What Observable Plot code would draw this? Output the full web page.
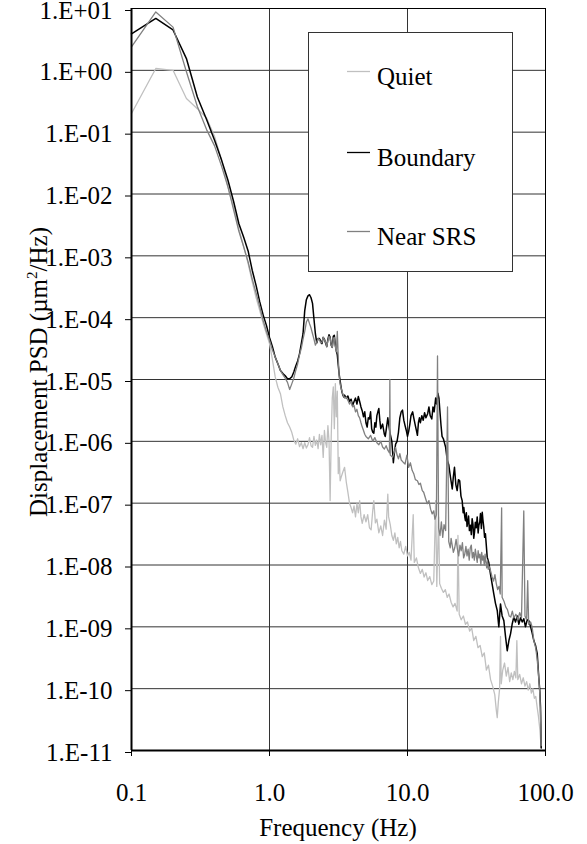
<!DOCTYPE html>
<html>
<head>
<meta charset="utf-8">
<script src="https://cdn.jsdelivr.net/npm/d3@7"></script>
<script src="https://cdn.jsdelivr.net/npm/@observablehq/plot@0.6"></script>
<style>
  html, body { margin: 0; padding: 0; background: #fff; }
  #chart { width: 587px; height: 844px; }
  #chart svg text { font-family: 'Liberation Serif', 'Times New Roman', serif; }
</style>
</head>
<body>
<div id="chart"></div>
<script>
// ---- Data ----
const xTicks = [0.1, 1, 10, 100];
const xTickLabels = ["0.1", "1.0", "10.0", "100.0"];
const yTicks = [1e1, 1e0, 1e-1, 1e-2, 1e-3, 1e-4, 1e-5, 1e-6, 1e-7, 1e-8, 1e-9, 1e-10, 1e-11];
const yTickLabels = ["1.E+01", "1.E+00", "1.E-01", "1.E-02", "1.E-03", "1.E-04", "1.E-05", "1.E-06", "1.E-07", "1.E-08", "1.E-09", "1.E-10", "1.E-11"];
const seriesNames = ["Quiet", "Boundary", "Near SRS"];

// Quiet
const quietF = [0.10,0.15,0.20,0.25,0.30,0.35,0.40,0.45,0.50,0.55,0.60,0.65,0.70,0.75,0.80,0.85,0.90,0.95,1.00,1.05,1.10,1.15,1.20,1.25,1.30,1.35,1.40,1.45,1.50,1.55,1.60,1.65,1.70,1.75,1.80,1.85,1.90,1.95,2.00,2.05,2.10,2.15,2.20,2.25,2.30,2.35,2.40,2.45,2.50,2.55,2.60,2.65,2.70,2.75,2.80,2.85,2.90,2.95,3.00,3.05,3.10,3.15,3.20,3.25,3.30,3.40,3.50,3.60,3.70,3.80,3.90,4.00,4.10,4.20,4.30,4.40,4.50,4.60,4.70,4.85,5.00,5.15,5.30,5.45,5.60,5.70,5.85,6.00,6.20,6.40,6.60,6.80,7.00,7.20,7.30,7.50,7.70,7.90,8.10,8.30,8.50,8.70,8.90,9.10,9.40,9.70,10.0,10.3,10.6,11.0,11.2,11.6,12.0,12.4,12.8,13.2,13.6,14.0,14.5,15.0,15.5,16.0,16.3,16.8,17.1,17.6,18.2,18.8,19.4,20.0,20.7,21.4,22.1,22.9,23.2,23.7,24.5,25.4,26.3,27.2,28.2,29.2,30.2,31.3,32.4,33.6,34.8,36.0,37.3,38.6,40.0,41.4,42.9,44.0,44.7,45.5,46.5,47.2,47.8,49.0,50.5,52.0,53.5,55.0,56.5,58.0,59.5,61.0,62.0,63.0,65.0,67.0,69.0,71.0,73.0,75.0,77.0,79.0,81.0,83.0,85.0,87.0,89.0,91.0,93.0];
const quietV = [0.2,1.07,1.0,0.35,0.24,0.17,0.085,0.035,0.013,0.006,0.0027,0.0014,7.5e-4,3.8e-4,2.1e-4,1.3e-4,8e-5,5.5e-5,3.8e-5,2.1e-5,1.1e-5,7.5e-6,5.9e-6,3.6e-6,2.6e-6,2.0e-6,1.7e-6,1.4e-6,1.05e-6,9.0e-7,1.1e-6,8.2e-7,9.5e-7,7.6e-7,9.5e-7,7.8e-7,8.8e-7,1.15e-6,8.5e-7,8.0e-7,1.2e-6,8.6e-7,1.05e-6,7.6e-7,1.3e-6,8.8e-7,1.25e-6,5.5e-7,1.5e-6,9.5e-7,8.0e-7,1.8e-6,1.0e-6,1.1e-7,1.2e-6,5.0e-6,7.6e-6,1.6e-6,8.6e-6,2.5e-6,6.5e-6,3.0e-7,5.5e-7,2.3e-7,2.6e-7,3.2e-7,3.8e-7,2.2e-7,1.5e-7,1.0e-7,8.5e-8,7.0e-8,9.0e-8,6.0e-8,9.8e-8,7.0e-8,1.1e-7,6.0e-8,4.7e-8,6.5e-8,5.0e-8,6.5e-8,4.0e-8,3.7e-8,7.6e-8,1.1e-7,4.8e-8,5.5e-8,3.3e-8,4.3e-8,3.0e-8,5.3e-8,3.8e-8,1.4e-7,6.0e-8,4.5e-8,3.0e-8,2.5e-8,3.3e-8,2.2e-8,2.8e-8,1.9e-8,2.4e-8,1.7e-8,1.5e-8,2.0e-8,1.4e-8,1.6e-8,1.2e-8,6.5e-8,1.1e-8,1.3e-8,9e-9,7.3e-9,8.5e-9,6.4e-9,7.5e-9,5.6e-9,6.5e-9,4.8e-9,5.5e-9,1.1e-7,4.5e-9,6e-8,5.0e-9,4.2e-9,3.6e-9,4.0e-9,3.0e-9,3.4e-9,2.5e-9,2.1e-9,2.4e-9,1.8e-9,3.0e-8,1.6e-9,1.3e-9,1.5e-9,1.1e-9,1.2e-9,8.5e-10,9.5e-10,6.0e-10,7.0e-10,4.6e-10,5.0e-10,3.3e-10,3.8e-10,2.0e-10,2.4e-10,1.4e-10,1.1e-10,8.0e-11,4.5e-11,3.4e-11,6.0e-11,1.0e-10,7e-10,1.2e-10,2.0e-10,2.6e-10,1.6e-10,2.2e-10,1.3e-10,1.8e-10,1.4e-10,1.9e-10,1.5e-10,6.0e-10,1.4e-10,1.7e-10,1.2e-10,1.5e-10,1.1e-10,1.3e-10,9.5e-11,1.2e-10,8.5e-11,1.0e-10,7.0e-11,7.5e-11,5.0e-11,3.5e-11,2.2e-11,1.1e-11];

// Boundary
const boundaryF = [0.10,0.15,0.20,0.25,0.30,0.35,0.40,0.45,0.50,0.55,0.60,0.65,0.70,0.75,0.80,0.85,0.90,0.95,1.00,1.05,1.10,1.15,1.20,1.25,1.30,1.35,1.40,1.45,1.50,1.55,1.60,1.65,1.70,1.75,1.80,1.85,1.90,1.95,2.00,2.05,2.10,2.15,2.20,2.25,2.30,2.35,2.40,2.45,2.50,2.55,2.60,2.65,2.70,2.75,2.80,2.85,2.90,2.95,3.00,3.05,3.10,3.15,3.20,3.25,3.30,3.35,3.40,3.45,3.5,3.6,3.7,3.8,3.9,4.0,4.1,4.2,4.3,4.4,4.5,4.6,4.7,4.8,4.9,5.0,5.1,5.2,5.3,5.4,5.5,5.6,5.7,5.8,5.9,6.0,6.1,6.2,6.3,6.4,6.6,6.8,6.9,7.0,7.2,7.3,7.5,7.7,7.9,8.0,8.2,8.4,8.6,8.8,9.0,9.2,9.4,9.6,9.8,10.0,10.2,10.4,10.6,10.9,11.1,11.4,11.6,11.8,12.0,12.2,12.4,12.7,13.0,13.3,13.6,14.0,14.3,14.6,15.0,15.3,15.6,16.0,16.3,16.6,16.9,17.1,17.5,17.8,18.2,18.9,19.4,19.9,20.5,21.1,21.5,21.9,22.4,22.9,23.4,23.9,24.4,24.9,25.3,25.6,26.0,26.3,26.7,27.0,27.4,27.7,28.1,28.6,29.0,29.4,29.8,30.2,30.6,31.0,31.5,32.0,32.5,32.9,33.4,33.8,34.3,34.8,35.2,35.7,36.2,36.7,37.8,38.8,39.9,41.0,42.2,43.4,44.7,45.9,47.2,48.5,49.9,51.3,52.8,54.3,55.8,57.3,58.9,60.6,62.4,64.1,65.9,67.8,69.6,71.6,73.7,75.7,78.0,80.0,82.3,84.7,87.1,89.4,91.0,92.0,93.1];
const boundaryV = [3.9,6.9,4.5,1.55,0.37,0.16,0.074,0.035,0.0167,0.0075,0.0033,0.0020,1.2e-3,5.8e-4,3.3e-4,1.8e-4,1.1e-4,7.5e-5,4.8e-5,3.4e-5,2.3e-5,1.8e-5,1.4e-5,1.25e-5,1.15e-5,1.03e-5,1.03e-5,1.1e-5,1.32e-5,1.65e-5,2.0e-5,2.6e-5,3.8e-5,5.5e-5,1.3e-4,1.95e-4,2.25e-4,2.35e-4,2.1e-4,1.7e-4,9.5e-5,5.5e-5,3.9e-5,4.6e-5,4.6e-5,4.2e-5,3.8e-5,4.8e-5,4.5e-5,3.9e-5,3.4e-5,4.5e-5,5.3e-5,4.8e-5,3.6e-5,3.3e-5,5.0e-5,5.2e-5,3.6e-5,2.9e-5,2.5e-5,1.7e-5,1.2e-5,9.5e-6,7.5e-6,6.3e-6,5.6e-6,5.2e-6,5.6e-6,5.0e-6,5.4e-6,4.4e-6,4.8e-6,3.8e-6,4.4e-6,5.0e-6,4.0e-6,5.3e-6,4.4e-6,3.6e-6,3.1e-6,2.5e-6,3.0e-6,2.0e-6,1.7e-6,2.4e-6,2.3e-6,3.0e-6,1.6e-6,1.4e-6,1.35e-6,2.0e-6,1.7e-6,2.6e-6,3.0e-6,3.4e-6,2.2e-6,1.6e-6,1.9e-6,1.3e-6,1.2e-6,1.5e-6,2.4e-6,1.9e-6,1.3e-6,1.0e-6,4.5e-7,6e-7,9e-7,1.0e-6,1.4e-6,2.4e-6,3.0e-6,3.2e-6,2.2e-6,1.8e-6,1.5e-6,1.2e-6,1.45e-6,1.9e-6,2.6e-6,3.0e-6,2.4e-6,1.8e-6,1.5e-6,1.25e-6,2.0e-6,2.4e-6,2.0e-6,2.6e-6,2.2e-6,2.9e-6,2.4e-6,2.8e-6,3.6e-6,2.6e-6,2.3e-6,3.6e-6,3.0e-6,5.0e-6,4.0e-6,6.0e-6,5.0e-6,3.5e-6,1.8e-6,1.2e-6,1.1e-6,8e-7,5e-7,4.2e-7,2.6e-7,1.7e-7,2.7e-7,3.8e-7,2.0e-7,1.6e-7,2.4e-7,2.3e-7,1.3e-7,1.1e-7,7.0e-8,8.5e-8,6.0e-8,5.2e-8,7.0e-8,4.2e-8,5.0e-8,6.2e-8,3.6e-8,4.4e-8,3.1e-8,5.6e-8,4.6e-8,2.7e-8,3.4e-8,4.9e-8,4.0e-8,6.0e-8,3.3e-8,4.4e-8,5.0e-8,6.8e-8,3.9e-8,7.1e-8,5.4e-8,4.1e-8,2.8e-8,3.2e-8,1.34e-8,1.1e-8,7.2e-9,5e-9,3.4e-9,2.4e-9,1.84e-9,1.0e-9,2.35e-9,1.5e-9,1.26e-9,7e-10,4.1e-10,6e-10,7.7e-10,1.1e-9,1.43e-9,1.2e-9,1.5e-9,1.1e-9,1.4e-9,1.2e-9,1.35e-9,1.0e-9,1.3e-9,1.26e-9,1.0e-9,8e-10,6e-10,5e-10,3.7e-10,1.5e-10,9e-11,5e-11,1.1e-11];

// Near SRS
const nearF = [0.10,0.15,0.20,0.25,0.30,0.35,0.40,0.45,0.50,0.55,0.60,0.65,0.70,0.75,0.80,0.85,0.90,0.95,1.00,1.05,1.10,1.15,1.20,1.25,1.30,1.35,1.40,1.45,1.50,1.55,1.60,1.65,1.70,1.75,1.80,1.85,1.90,1.95,2.00,2.05,2.10,2.15,2.20,2.25,2.30,2.35,2.40,2.45,2.50,2.55,2.60,2.65,2.70,2.75,2.80,2.85,2.90,2.95,3.00,3.05,3.10,3.15,3.20,3.25,3.30,3.35,3.40,3.5,3.6,3.7,3.8,3.9,4.0,4.1,4.2,4.3,4.4,4.5,4.6,4.7,4.8,4.9,5.0,5.2,5.4,5.6,5.8,6.0,6.2,6.4,6.6,6.8,7.0,7.2,7.4,7.45,7.5,7.8,8.0,8.2,8.4,8.6,8.8,9.0,9.3,9.6,9.9,10.2,10.5,10.8,11.1,11.4,11.8,12.1,12.4,12.8,13.1,13.5,13.9,14.3,14.7,15.1,15.5,15.8,16.2,16.5,16.8,17.2,17.6,18.0,18.4,18.9,19.5,19.9,20.4,20.7,21.0,21.5,22.0,22.5,23.0,23.5,24.0,24.5,25.0,25.5,26.0,26.5,27.0,27.5,28.0,28.5,29.0,29.5,30.0,30.5,31.0,31.5,32.0,32.5,33.0,33.5,34.0,34.5,35.0,35.5,36.0,36.5,37.0,37.5,38.0,38.5,39.0,40.0,41.0,42.0,43.0,44.0,45.0,46.0,47.0,48.1,48.5,50.0,51.5,53.0,54.5,56.0,57.5,59.0,61.0,63.0,65.0,67.0,69.6,71.0,73.0,74.3,75.5,78.0,80.0,82.3,85.0,87.0,89.0,91.0,92.0,93.0];
const nearV = [2.4,8.8,5.0,0.95,0.26,0.11,0.06,0.028,0.013,0.0055,0.0025,0.0014,8e-4,4.2e-4,2.5e-4,1.5e-4,9e-5,6e-5,4.3e-5,3e-5,2.3e-5,1.8e-5,1.4e-5,1.2e-5,1.05e-5,9.0e-6,6.9e-6,8.5e-6,1.05e-5,1.4e-5,1.8e-5,2.5e-5,3.2e-5,4.5e-5,6.0e-5,8.5e-5,9.6e-5,8.0e-5,6.8e-5,5.5e-5,4.5e-5,3.6e-5,4.0e-5,4.6e-5,4.4e-5,3.9e-5,4.0e-5,4.8e-5,4.4e-5,4.0e-5,3.4e-5,4.3e-5,5.0e-5,4.7e-5,3.6e-5,3.3e-5,4.6e-5,4.8e-5,3.4e-5,2.8e-5,6.0e-5,2.2e-5,1.1e-5,8.5e-6,7.2e-6,6.5e-6,5.8e-6,5.0e-6,5.2e-6,4.6e-6,4.0e-6,4.4e-6,3.6e-6,3.8e-6,3.0e-6,3.3e-6,2.6e-6,2.4e-6,2.0e-6,1.7e-6,1.5e-6,1.3e-6,1.2e-6,1.1e-6,1.25e-6,1.0e-6,1.15e-6,9.5e-7,8.8e-7,1.0e-6,8.1e-7,7.5e-7,8.5e-7,7.2e-7,6.5e-7,1.0e-5,6.0e-7,5.5e-7,6.5e-7,8.0e-7,6.0e-7,5.2e-7,6.3e-7,5.0e-7,4.6e-7,4.3e-7,6.0e-7,3.8e-7,4.5e-7,3.4e-7,3.0e-7,2.4e-7,2.3e-7,2.0e-7,2.1e-7,1.6e-7,1.5e-7,1.2e-7,9.8e-8,1.1e-7,8e-8,6.7e-8,7.5e-8,5.5e-8,6.5e-8,2.4e-5,4.0e-8,3.0e-8,5.0e-8,2.8e-8,4.5e-8,3.6e-8,3.6e-6,2.4e-8,1.9e-8,2.7e-8,2.2e-8,1.6e-8,1.9e-8,2.6e-8,1.8e-8,1.4e-8,2.1e-8,1.7e-8,2.3e-8,1.3e-8,1.5e-8,2.0e-8,1.4e-8,1.8e-8,1.2e-8,1.9e-8,2.1e-8,1.3e-8,1.6e-8,1.2e-8,1.8e-8,1.4e-8,1.1e-8,1.7e-8,1.3e-8,1.5e-8,1.0e-8,1.6e-8,1.2e-8,1.4e-8,1.0e-8,1.5e-8,1.1e-8,9e-9,1.2e-8,8.5e-9,9.5e-9,8e-9,6.4e-9,5.5e-9,7e-9,5e-9,4e-9,4.5e-9,3.4e-9,8.4e-8,3.0e-9,2.6e-9,2.1e-9,1.9e-9,1.5e-9,1.44e-9,1.8e-9,1.4e-9,1.6e-9,1.3e-9,1.7e-9,1.4e-9,7.5e-8,1.5e-9,1.3e-9,5.6e-9,1.1e-9,1.2e-9,1.0e-9,6e-10,4.5e-10,3.0e-10,1.7e-10,8e-11,4e-11,1.2e-11];

// Colours per series
const seriesColors = ["#c0c0c0", "#000000", "#808080"];

// ---- Build tables ----
const toRows = (F, V) => F.map((f, i) => ({ f, v: V[i] }));
const quiet = toRows(quietF, quietV);
const boundary = toRows(boundaryF, boundaryV);
const near = toRows(nearF, nearV);

const FONT = "'Liberation Serif', 'Times New Roman', serif";
const FS = 25;

const svg = Plot.plot({
  width: 587,
  height: 844,
  marginLeft: 131,
  marginRight: 42,
  marginTop: 8,
  marginBottom: 94,
  style: { fontFamily: FONT, fontSize: FS + "px", color: "#000", background: "#fff" },
  x: { type: "log", domain: [0.1, 100] },
  y: { type: "log", domain: [1e-11, 10] },
  marks: [
    Plot.ruleY(yTicks, { stroke: "#333", strokeWidth: 1 }),
    Plot.ruleX([1, 10], { stroke: "#333", strokeWidth: 1 }),
    Plot.line(quiet, { x: "f", y: "v", stroke: seriesColors[0], strokeWidth: 1.3 }),
    Plot.line(boundary, { x: "f", y: "v", stroke: seriesColors[1], strokeWidth: 1.5 }),
    Plot.line(near, { x: "f", y: "v", stroke: seriesColors[2], strokeWidth: 1.3 }),
    Plot.frame({ stroke: "#000", strokeWidth: 1 }),
    Plot.ruleX([0.1], { stroke: "#000", strokeWidth: 2 }),
    Plot.ruleY([1e-11], { stroke: "#000", strokeWidth: 2 }),
    Plot.axisY({ ticks: yTicks, tickFormat: (d) => yTickLabels[yTicks.indexOf(d)], tickSize: 6, tickPadding: 13, label: null, fontSize: FS, dy: 2 }),
    Plot.axisX({ ticks: xTicks, tickFormat: (d) => xTickLabels[xTicks.indexOf(d)], tickSize: 6, tickPadding: 27, label: null, fontSize: FS })
  ]
});

document.getElementById("chart").appendChild(svg);

const s = d3.select(svg);
// Axis titles
s.append("text")
  .attr("x", 338).attr("y", 836)
  .attr("text-anchor", "middle")
  .style("font-family", FONT).style("font-size", FS + "px")
  .attr("fill", "#000")
  .text("Frequency (Hz)");

const yl = s.append("text")
  .attr("transform", "translate(47,372) rotate(-90)")
  .attr("text-anchor", "middle")
  .style("font-family", FONT).style("font-size", FS + "px")
  .attr("fill", "#000");
yl.append("tspan").text("Displacement PSD (µm");
yl.append("tspan").style("font-size", "15px").attr("dy", -10).text("2");
yl.append("tspan").attr("dy", 10).text("/Hz)");

// Legend
const lg = s.append("g");
lg.append("rect").attr("x", 308.5).attr("y", 32.5).attr("width", 204).attr("height", 239)
  .attr("fill", "#fff").attr("stroke", "#333").attr("stroke-width", 1);
const legY = [71, 152, 231];
seriesNames.forEach((name, i) => {
  lg.append("line").attr("x1", 347).attr("x2", 370).attr("y1", legY[i] + 0.5).attr("y2", legY[i] + 0.5)
    .attr("stroke", seriesColors[i]).attr("stroke-width", 1.3);
  lg.append("text").attr("x", 377).attr("y", legY[i] + 13.5)
    .attr("text-anchor", "start")
    .style("font-family", FONT).style("font-size", FS + "px").attr("fill", "#000")
    .text(name);
});
</script>
</body>
</html>
